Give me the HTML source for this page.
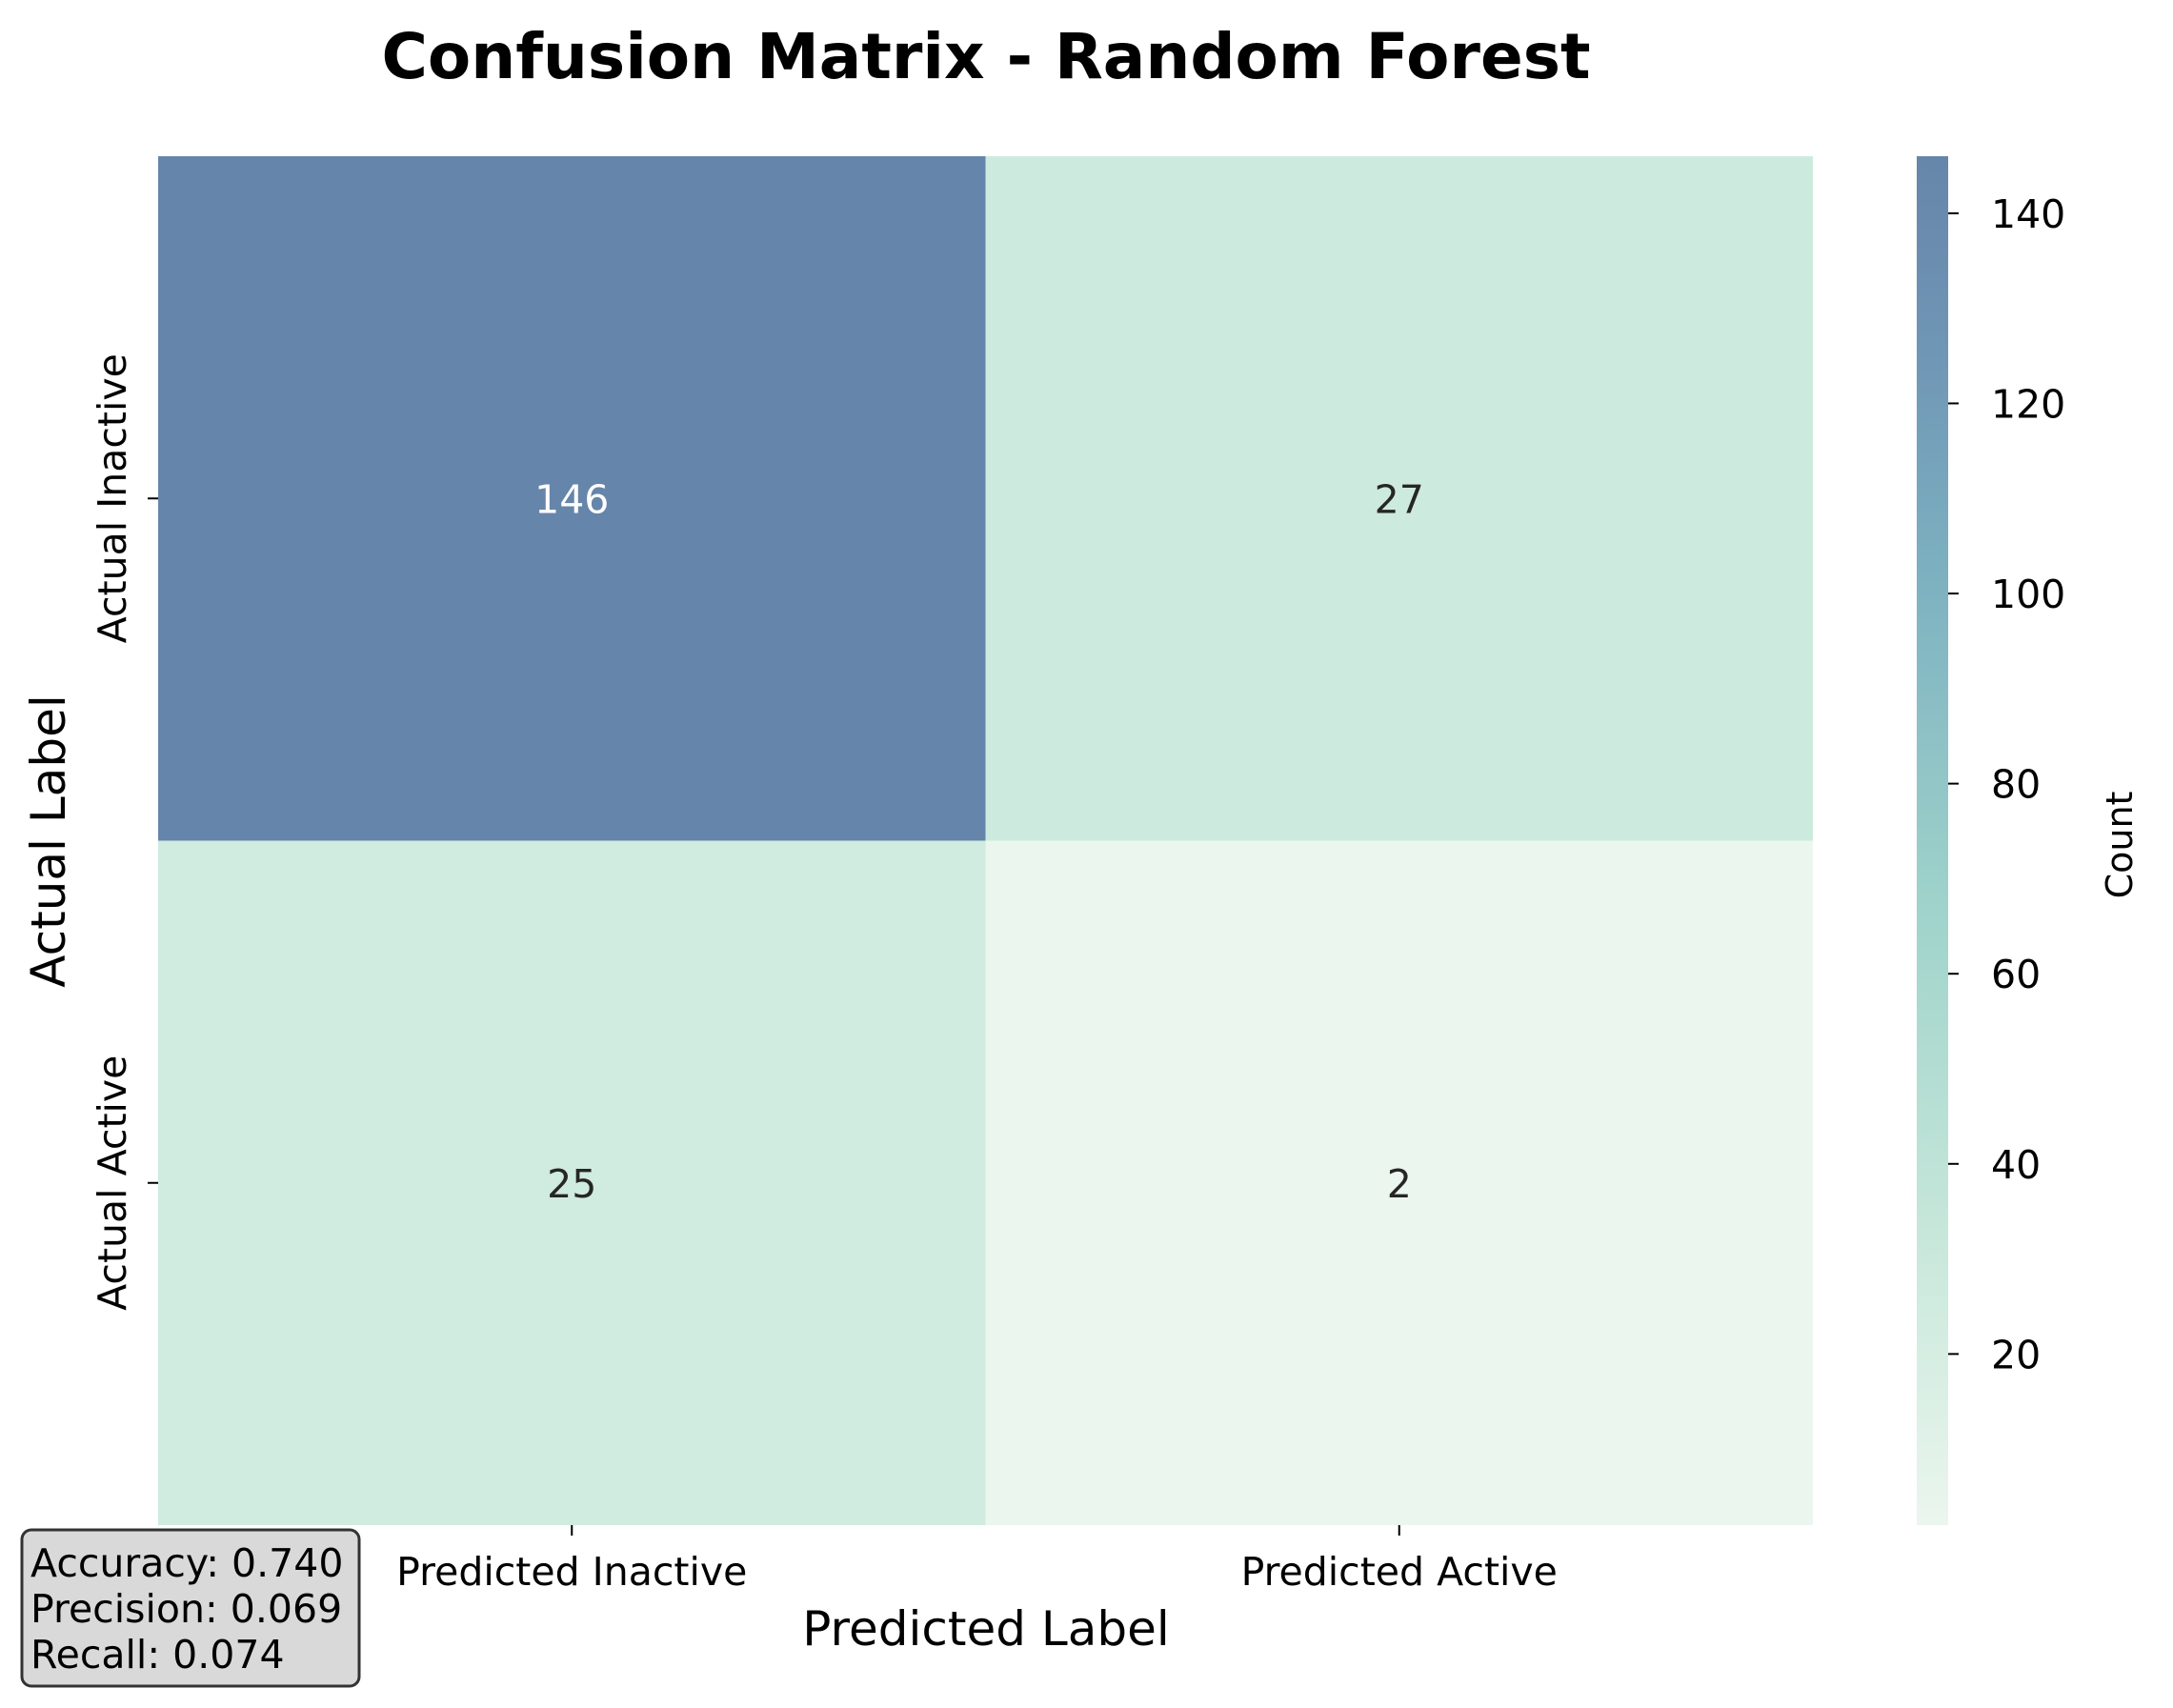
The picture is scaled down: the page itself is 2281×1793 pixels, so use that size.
<!DOCTYPE html>
<html><head><meta charset="utf-8"><style>
html,body{margin:0;padding:0;background:#fff;}
svg text{font-family:"DejaVu Sans","Liberation Sans",sans-serif;}
</style></head><body>
<svg id="chart" width="2281" height="1788" viewBox="0 0 2281 1788" xmlns="http://www.w3.org/2000/svg">
<defs>
<linearGradient id="cbgrad" x1="0" y1="1" x2="0" y2="0">
<stop offset="0" stop-color="#ebf6ee"/>
<stop offset="0.2" stop-color="#c9e8db"/>
<stop offset="0.45" stop-color="#9fd3cb"/>
<stop offset="0.7" stop-color="#7cb0c0"/>
<stop offset="0.85" stop-color="#7097b6"/>
<stop offset="1" stop-color="#6685aa"/>
</linearGradient>
</defs>
<text x="1035" y="82" text-anchor="middle" font-size="66" font-weight="bold" fill="#000">Confusion Matrix - Random Forest</text>
<g id="cells"></g>
<g id="axes"></g>
<rect x="2012" y="164" width="33" height="1437" fill="url(#cbgrad)"/>
<g id="cbticks"></g>
<text transform="translate(2238,887) rotate(-90)" text-anchor="middle" font-size="38" fill="#000">Count</text>
<text x="1035" y="1727" text-anchor="middle" font-size="50" fill="#000">Predicted Label</text>
<text transform="translate(68,883) rotate(-90)" text-anchor="middle" font-size="50" fill="#000">Actual Label</text>
<g>
<rect x="23" y="1606" width="354" height="164" rx="10" fill="#d9d9d9" stroke="#333" stroke-width="3"/>
<text x="32" y="1655" font-size="41" fill="#000">Accuracy: 0.740</text>
<text x="32" y="1703" font-size="41" fill="#000">Precision: 0.069</text>
<text x="32" y="1751" font-size="41" fill="#000">Recall: 0.074</text>
</g>
</svg>
<script>
const rowLabels = ["Actual Inactive", "Actual Active"];
const colLabels = ["Predicted Inactive", "Predicted Active"];
const row0 = [146, 27];
const row1 = [25, 2];
const cbTicks = [20, 40, 60, 80, 100, 120, 140];
const vmin = 2, vmax = 146;
const L=166,R=1903,T=164,B=1601;
const NS="http://www.w3.org/2000/svg";
const stops=[[0,[235,246,238]],[0.2,[201,232,219]],[0.45,[159,211,203]],[0.7,[124,176,192]],[0.85,[112,151,182]],[1,[102,133,170]]];
function color(v){const t=(v-vmin)/(vmax-vmin);for(let i=1;i<stops.length;i++){if(t<=stops[i][0]){const a=stops[i-1],b=stops[i];const f=(t-a[0])/(b[0]-a[0]);return 'rgb('+a[1].map((c,k)=>Math.round(c+(b[1][k]-c)*f)).join(',')+')';}}return 'rgb(102,133,170)';}
const cw=(R-L)/colLabels.length, ch=(B-T)/rowLabels.length;
function cbY(v){return B-(v-vmin)/(vmax-vmin)*(B-T);}
const cells=document.getElementById('cells'),axes=document.getElementById('axes'),cbg=document.getElementById('cbticks');
[row0,row1].forEach((row,r)=>{row.forEach((v,c)=>{
const rect=document.createElementNS(NS,'rect');


rect.setAttribute('x',L+c*cw);rect.setAttribute('y',T+r*ch);rect.setAttribute('width',cw);rect.setAttribute('height',ch);rect.setAttribute('fill',color(v));
cells.appendChild(rect);
const t=document.createElementNS(NS,'text');


t.setAttribute('x',L+(c+0.5)*cw);t.setAttribute('y',T+(r+0.5)*ch+15);t.setAttribute('text-anchor','middle');t.setAttribute('font-size','41');
t.setAttribute('fill',(v-vmin)/(vmax-vmin)>0.5?'#fff':'#262626');t.textContent=v;cells.appendChild(t);
});});
colLabels.forEach((lab,c)=>{const x=L+(c+0.5)*cw;
const tk=document.createElementNS(NS,'line');


tk.setAttribute('x1',x);tk.setAttribute('x2',x);tk.setAttribute('y1',B);tk.setAttribute('y2',B+11);tk.setAttribute('stroke','#000');tk.setAttribute('stroke-width','2');axes.appendChild(tk);
const t=document.createElementNS(NS,'text');


t.setAttribute('x',x);t.setAttribute('y',B+63);t.setAttribute('text-anchor','middle');t.setAttribute('font-size','41');t.textContent=lab;axes.appendChild(t);});
rowLabels.forEach((lab,r)=>{const y=T+(r+0.5)*ch;
const tk=document.createElementNS(NS,'line');


tk.setAttribute('x1',L-11);tk.setAttribute('x2',L);tk.setAttribute('y1',y);tk.setAttribute('y2',y);tk.setAttribute('stroke','#000');tk.setAttribute('stroke-width','2');axes.appendChild(tk);
const t=document.createElementNS(NS,'text');


t.setAttribute('transform','translate('+(L-34)+','+y+') rotate(-90)');t.setAttribute('text-anchor','middle');t.setAttribute('font-size','41');t.textContent=lab;axes.appendChild(t);});
cbTicks.forEach(v=>{const y=cbY(v);
const tk=document.createElementNS(NS,'line');


tk.setAttribute('x1',2045);tk.setAttribute('x2',2056);tk.setAttribute('y1',y);tk.setAttribute('y2',y);tk.setAttribute('stroke','#000');tk.setAttribute('stroke-width','2');cbg.appendChild(tk);
const t=document.createElementNS(NS,'text');


t.setAttribute('x',2090);t.setAttribute('y',y+15);t.setAttribute('font-size','41');t.textContent=v;cbg.appendChild(t);});
</script>
</body></html>
